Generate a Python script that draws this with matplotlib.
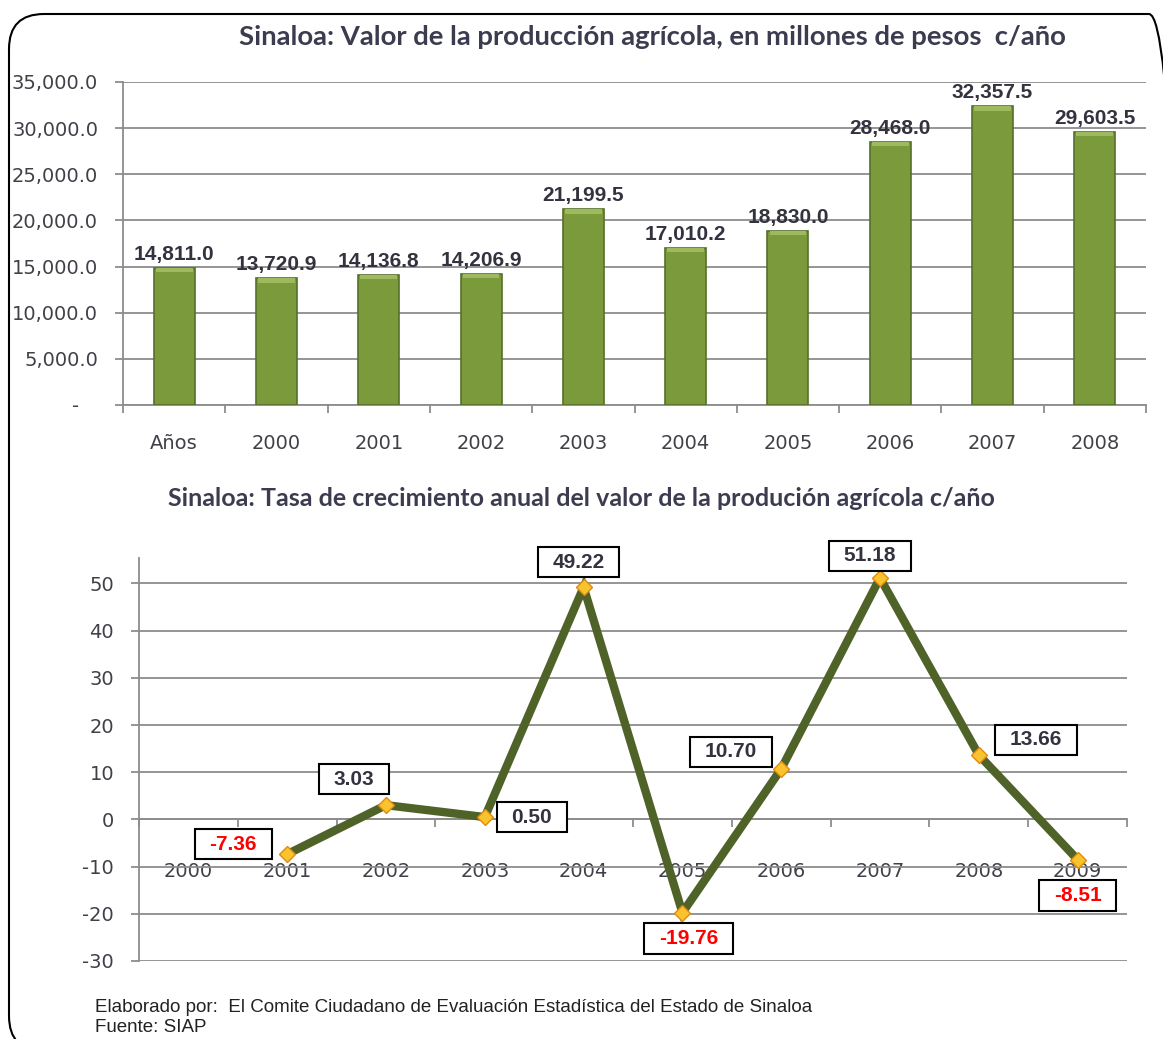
import matplotlib
matplotlib.use('Agg')
import matplotlib.pyplot as plt
from matplotlib.patches import FancyBboxPatch
from matplotlib.transforms import IdentityTransform
from matplotlib.ticker import FuncFormatter
import numpy as np

plt.rcParams['axes.unicode_minus'] = False

# --- data -------------------------------------------------------------
bar_cats = ['Años', '2000', '2001', '2002', '2003', '2004', '2005', '2006', '2007', '2008']
bar_values = [14811.0, 13720.9, 14136.8, 14206.9, 21199.5, 17010.2, 18830.0, 28468.0, 32357.5, 29603.5]

rate_years = ['2000', '2001', '2002', '2003', '2004', '2005', '2006', '2007', '2008', '2009']
rate_values = [np.nan, -7.36, 3.03, 0.50, 49.22, -19.76, 10.70, 51.18, 13.66, -8.51]
rate_text = ['', '-7.36', '3.03', '0.50', '49.22', '-19.76', '10.70', '51.18', '13.66', '-8.51']

# label box offsets from each point, in pixels (x right, y up)
box_dx = [0, -54, -32, 47, -5, 6, -50, -10, 57, 0]
box_dy = [0, 10, 26, 0, 25, -26, 17, 22, 15, -36]

title_top = 'Sinaloa: Valor de la producción agrícola, en millones de pesos  c/año'
title_bottom = 'Sinaloa: Tasa de crecimiento anual del valor de la produción agrícola c/año'
footer_1 = 'Elaborado por:  El Comite Ciudadano de Evaluación Estadística del Estado de Sinaloa'
footer_2 = 'Fuente: SIAP'

# --- style ------------------------------------------------------------
W, H = 1163, 1039
grid_col = '#8C8C8C'
tick_col = '#404048'
bar_col = '#7A9A3C'
bar_edge = '#55702A'
line_col = '#4F6228'

fig = plt.figure(figsize=(W / 100, H / 100), dpi=100)


def px_axes(left, top, right, bottom):
    return fig.add_axes([left / W, 1 - bottom / H, (right - left) / W, (bottom - top) / H])


def style_axes(ax):
    for s in ['top', 'right']:
        ax.spines[s].set_visible(False)
    for s in ['left', 'bottom']:
        ax.spines[s].set_color(grid_col)
        ax.spines[s].set_linewidth(1.3)
    ax.grid(axis='y', color=grid_col, linewidth=1.3)
    ax.set_axisbelow(True)
    ax.tick_params(axis='y', colors=grid_col, labelcolor=tick_col, length=6, width=1.3,
                   pad=12, labelsize=14)
    ax.tick_params(axis='x', which='major', length=0, labelcolor=tick_col, labelsize=14)
    ax.tick_params(axis='x', which='minor', colors=grid_col, length=6, width=1.3, direction='out')


# --- top chart: bars --------------------------------------------------
ax1 = px_axes(123, 82, 1146, 405)
style_axes(ax1)
xb = np.arange(len(bar_cats))
bars = ax1.bar(xb, bar_values, width=0.4, color=bar_col, edgecolor=bar_edge, linewidth=1.2, zorder=3)
# light bevel on top of each bar
ax1.bar(xb, [450] * len(xb), bottom=np.array(bar_values) - 450, width=0.36,
        color='#9DBA5E', edgecolor='none', zorder=4)
for x, v in zip(xb, bar_values):
    ax1.annotate(f'{v:,.1f}', (x, v), xytext=(0, 4), textcoords='offset pixels',
                 ha='center', va='bottom', fontsize=15, fontweight='bold',
                 family='Liberation Sans', color='#333340')
ax1.set_xlim(-0.5, len(bar_cats) - 0.5)
ax1.set_ylim(0, 35000)
ax1.set_yticks(np.arange(0, 35001, 5000))
ax1.yaxis.set_major_formatter(FuncFormatter(lambda v, p: '-   ' if v == 0 else f'{v:,.1f}'))
ax1.set_xticks(xb)
ax1.set_xticklabels(bar_cats)
ax1.set_xticks(np.arange(-0.5, len(bar_cats), 1.0), minor=True)
ax1.tick_params(axis='x', which='major', pad=21)

# --- bottom chart: growth rate ---------------------------------------
ax2 = px_axes(139, 558, 1127, 961)
style_axes(ax2)
xr = np.arange(len(rate_years))
ax2.plot(xr, rate_values, color=line_col, linewidth=6, solid_joinstyle='miter', zorder=3)
ax2.plot(xr, rate_values, linestyle='none', marker='D', markersize=8,
         markerfacecolor='#F9C32E', markeredgecolor='#E08A10', markeredgewidth=1, zorder=4)
for i in range(len(rate_years)):
    if np.isnan(rate_values[i]):
        continue
    col = 'red' if rate_values[i] < 0 else '#333340'
    ax2.annotate(rate_text[i], (xr[i], rate_values[i]), xytext=(box_dx[i], box_dy[i]),
                 textcoords='offset pixels', ha='center', va='center',
                 fontsize=15, fontweight='bold', family='Liberation Sans', color=col, zorder=5,
                 bbox=dict(boxstyle='square,pad=0.7', mutation_aspect=0.4,
                           facecolor='white', edgecolor='black', linewidth=1.5))
ax2.set_xlim(-0.5, len(rate_years) - 0.5)
ax2.set_ylim(-30, 55.4)
ax2.set_yticks(np.arange(-30, 51, 10))
ax2.spines['bottom'].set_position(('data', 0))
ax2.set_xticks(xr)
ax2.set_xticklabels(rate_years)
ax2.set_xticks(np.arange(-0.5, len(rate_years), 1.0), minor=True)
ax2.tick_params(axis='x', which='major', pad=31)

# --- titles, footer, frame -------------------------------------------
t1 = fig.text(652 / W, 1 - 37 / H, title_top, ha='center', va='center', fontsize=16,
              family='Lato', fontweight='bold', color='#3C3C50')
t2 = fig.text(581 / W, 1 - 499 / H, title_bottom, ha='center', va='center', fontsize=13,
              family='Lato', fontweight='bold', color='#3C3C50')
f1 = fig.text(95 / W, 1 - 1008 / H, footer_1, ha='left', va='center', fontsize=13.5,
              family='Liberation Sans', color='#222222')
f2 = fig.text(95 / W, 1 - 1028 / H, footer_2, ha='left', va='center', fontsize=13.5,
              family='Liberation Sans', color='#222222')

# scale the titles to their width in the picture
fig.canvas.draw()
for t, target in [(t1, 831), (t2, 823)]:
    w = t.get_window_extent().width
    t.set_fontsize(t.get_fontsize() * target / w)

frame = FancyBboxPatch((9, -12), 1175, H - 14 + 12, boxstyle='round,pad=0,rounding_size=35',
                       transform=IdentityTransform(), facecolor='none', edgecolor='black',
                       linewidth=1.5)
fig.add_artist(frame)

fig.savefig('out.png', dpi=100)
